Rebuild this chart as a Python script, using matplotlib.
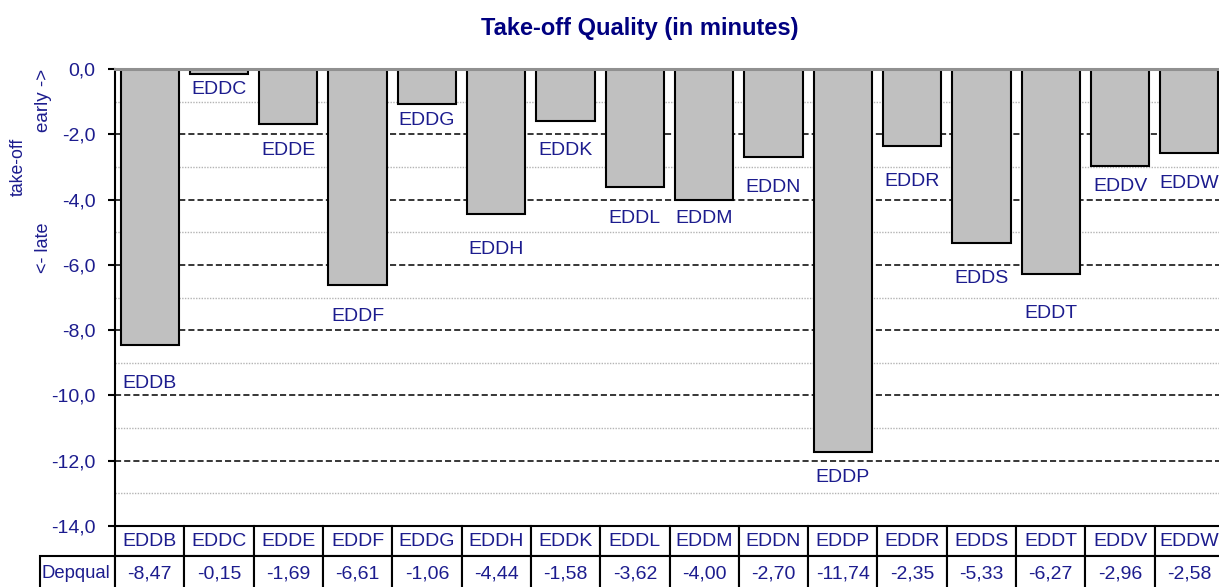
import matplotlib.pyplot as plt
from matplotlib.ticker import MultipleLocator, FuncFormatter

# Data
airports = ['EDDB', 'EDDC', 'EDDE', 'EDDF', 'EDDG', 'EDDH', 'EDDK', 'EDDL',
            'EDDM', 'EDDN', 'EDDP', 'EDDR', 'EDDS', 'EDDT', 'EDDV', 'EDDW']
depqual = [-8.47, -0.15, -1.69, -6.61, -1.06, -4.44, -1.58, -3.62,
           -4.00, -2.70, -11.74, -2.35, -5.33, -6.27, -2.96, -2.58]
row_name = 'Depqual'

# where the bar labels were placed (data units)
label_y = [-9.62, -0.64, -2.51, -7.59, -1.59, -5.52, -2.51, -4.57,
           -4.59, -3.64, -12.50, -3.46, -6.43, -7.48, -3.59, -3.50]

navy = '#1c1c8e'
plt.rcParams['font.family'] = ['Liberation Sans', 'DejaVu Sans']

W, H = 1219, 587
fig = plt.figure(figsize=(W / 100, H / 100), dpi=100)
left, right, top, bottom = 115, 1224, 69, 526
ax = fig.add_axes([left / W, (H - bottom) / H, (right - left) / W, (bottom - top) / H])

x = list(range(len(airports)))
ax.bar(x, depqual, width=0.84, color='#c0c0c0', edgecolor='black', linewidth=1.5, zorder=3)

for xi, name, ly in zip(x, airports, label_y):
    ax.text(xi, ly, name, ha='center', va='center', color=navy, fontsize=14, zorder=4)

ax.set_xlim(-0.5, len(airports) - 0.5)
ax.set_ylim(-14, 0)

# gridlines
ax.yaxis.set_major_locator(MultipleLocator(2))
ax.yaxis.set_minor_locator(MultipleLocator(1))
ax.grid(which='major', axis='y', color='black', linestyle=(0, (4, 2)), linewidth=1.1)
ax.grid(which='minor', axis='y', color='#b4b4b4', linestyle=(0, (1, 1)), linewidth=1)
ax.set_axisbelow(True)
ax.axhline(0, color='#909090', linewidth=2.2, zorder=5, clip_on=False)

ax.yaxis.set_major_formatter(FuncFormatter(lambda v, p: f'{v:.1f}'.replace('.', ',').replace('-0,0', '0,0')))
ax.tick_params(axis='y', which='major', direction='out', length=5, width=1.5,
               pad=9, labelsize=14, labelcolor=navy)
ax.tick_params(axis='y', which='minor', length=0)
ax.set_xticks([])

for s in ['top', 'right', 'bottom']:
    ax.spines[s].set_visible(False)
ax.spines['left'].set_linewidth(1.5)

# data table under the chart
plot_h = bottom - top
lab_w = 75 / (right - left)
col_w = 1.0 / len(airports)
head_h, body_h = 30, 36
cell_text = [[row_name] + [f'{v:.2f}'.replace('.', ',') for v in depqual]]
tbl = ax.table(cellText=cell_text, colLabels=[''] + airports,
               colWidths=[lab_w] + [col_w] * len(airports),
               cellLoc='center', loc='bottom',
               bbox=[-lab_w, -(head_h + body_h) / plot_h, 1 + lab_w, (head_h + body_h) / plot_h])
tbl.auto_set_font_size(False)
tbl.set_fontsize(14)
for (r, c), cell in tbl.get_celld().items():
    cell.set_edgecolor('black')
    cell.set_linewidth(1.5)
    cell.get_text().set_color(navy)
    cell.set_height((head_h if r == 0 else body_h) / plot_h)
    if r == 0 and c == 0:
        cell.visible_edges = ''
    if r == 1 and c == 0:
        cell.get_text().set_ha('left')
        cell.get_text().set_fontsize(13.3)
        cell.PAD = 0.02

# axis side labels
fig.text(18 / W, 1 - 167 / H, 'take-off', rotation=90, ha='center', va='center',
         color=navy, fontsize=12.7)
fig.text(43 / W, 1 - 100 / H, 'early ->', rotation=90, ha='center', va='center',
         color=navy, fontsize=13.5)
fig.text(43 / W, 1 - 248 / H, '<- late', rotation=90, ha='center', va='center',
         color=navy, fontsize=13)

fig.text(640 / W, 1 - 28 / H, 'Take-off Quality (in minutes)', ha='center', va='center',
         color='#000080', fontsize=17, fontweight='bold')

fig.savefig('out.png', dpi=100)
